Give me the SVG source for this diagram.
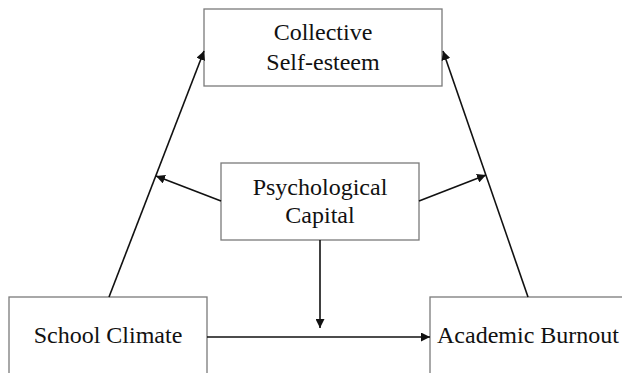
<svg xmlns="http://www.w3.org/2000/svg" width="622" height="373" viewBox="0 0 622 373">
<defs>
<marker id="ah" viewBox="0 0 10 10" refX="10" refY="5" markerWidth="9" markerHeight="9" markerUnits="userSpaceOnUse" orient="auto">
<path d="M0,0 L10,5 L0,10 z" fill="#111"/>
</marker>
</defs>
<style>
.box{fill:#fff;stroke:#7a7a7a;stroke-width:1.3}
.t{font-family:"Liberation Serif","Times New Roman",serif;font-size:24px;fill:#111;text-anchor:middle}
.c{stroke:#111;stroke-width:1.6;fill:none;marker-end:url(#ah)}
</style>
<rect width="622" height="373" fill="#fff"/>
<g id="collective">
<rect class="box" x="204" y="9" width="238" height="77"/>
<text class="t" x="323" y="40">Collective</text>
<text class="t" x="323" y="70">Self-esteem</text>
</g>
<g id="psych">
<rect class="box" x="221" y="163" width="198" height="77"/>
<text class="t" x="320" y="195">Psychological</text>
<text class="t" x="320" y="223">Capital</text>
</g>
<g id="school">
<rect class="box" x="9" y="297" width="198" height="90"/>
<text class="t" x="108" y="343">School Climate</text>
</g>
<g id="burnout">
<rect class="box" x="430" y="297" width="210" height="90"/>
<text class="t" x="528" y="343">Academic Burnout</text>
</g>
<g id="connectors">
<line class="c" x1="109" y1="297" x2="204" y2="51"/>
<line class="c" x1="528" y1="297" x2="443" y2="51"/>
<line class="c" x1="221" y1="201" x2="156" y2="176"/>
<line class="c" x1="419" y1="201" x2="486" y2="175"/>
<line class="c" x1="320" y1="240" x2="320" y2="328"/>
<line class="c" x1="207" y1="337" x2="430" y2="337"/>
</g>
</svg>
